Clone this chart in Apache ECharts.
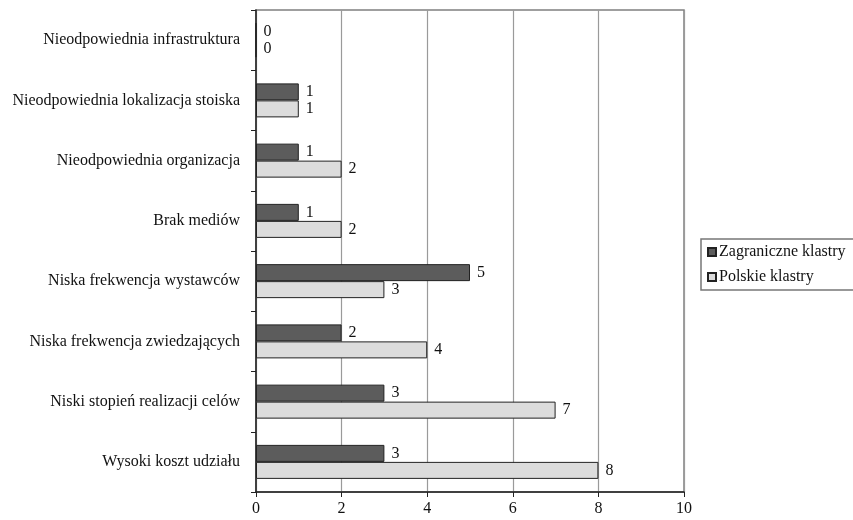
<!DOCTYPE html>
<html>
<head>
<meta charset="utf-8">
<script src="https://cdn.jsdelivr.net/npm/echarts@6/dist/echarts.min.js"></script>
<style>
  html, body { margin: 0; padding: 0; background: #fff; }
  #chart { width: 853px; height: 520px; }
</style>
</head>
<body>
<div id="chart"></div>
<script>
// Problem categories, listed top to bottom
const categories = [
  'Nieodpowiednia infrastruktura',
  'Nieodpowiednia lokalizacja stoiska',
  'Nieodpowiednia organizacja',
  'Brak mediów',
  'Niska frekwencja wystawców',
  'Niska frekwencja zwiedzających',
  'Niski stopień realizacji celów',
  'Wysoki koszt udziału'
];
const foreignClusters = [0, 1, 1, 1, 5, 2, 3, 3];
const polishClusters  = [0, 1, 2, 2, 3, 4, 7, 8];
const seriesNames = ['Zagraniczne klastry', 'Polskie klastry'];
const xTicks = { min: 0, max: 10, interval: 2 };

const font = 'Liberation Serif, Times New Roman, serif';
const chart = echarts.init(document.getElementById('chart'), null, { renderer: 'canvas' });

const labelStyle = {
  show: true,
  position: 'right',
  distance: 7,
  color: '#111',
  fontFamily: font,
  fontSize: 16
};

chart.setOption({
  animation: false,
  backgroundColor: '#fff',
  textStyle: { fontFamily: font },
  grid: {
    left: 256, top: 10, width: 428, height: 482,
    show: true, borderColor: '#808080', borderWidth: 1.5
  },
  legend: {
    orient: 'vertical',
    left: 701, top: 239,
    data: seriesNames,
    itemWidth: 8, itemHeight: 8, itemGap: 9,
    padding: [5, 30, 5, 6],
    borderColor: '#777', borderWidth: 1.5,
    textStyle: { fontFamily: font, fontSize: 16, color: '#111', padding: [0, 0, 0, -2] },
    icon: 'rect'
  },
  xAxis: {
    type: 'value',
    min: xTicks.min, max: xTicks.max, interval: xTicks.interval,
    axisLine: { show: true, lineStyle: { color: '#222', width: 1.5 } },
    axisTick: { show: true, length: 5, lineStyle: { color: '#222' } },
    axisLabel: { color: '#111', fontFamily: font, fontSize: 16, margin: 9 },
    splitLine: { show: true, lineStyle: { color: '#9a9a9a', width: 1.2 } }
  },
  yAxis: {
    type: 'category',
    inverse: true,
    data: categories,
    axisLine: { show: true, lineStyle: { color: '#222', width: 1.5 } },
    axisTick: { show: true, length: 5, alignWithLabel: false, lineStyle: { color: '#222' } },
    axisLabel: { color: '#111', fontFamily: font, fontSize: 16, margin: 16 },
    splitLine: { show: false }
  },
  series: [
    {
      name: seriesNames[0],
      type: 'bar',
      data: foreignClusters,
      barWidth: 17,
      barGap: '0%',
      itemStyle: { color: '#5c5c5c', borderColor: '#222', borderWidth: 1 },
      label: labelStyle
    },
    {
      name: seriesNames[1],
      type: 'bar',
      data: polishClusters,
      barWidth: 17,
      barGap: '0%',
      itemStyle: { color: '#dcdcdc', borderColor: '#222', borderWidth: 1 },
      label: labelStyle
    }
  ]
});
</script>
</body>
</html>
